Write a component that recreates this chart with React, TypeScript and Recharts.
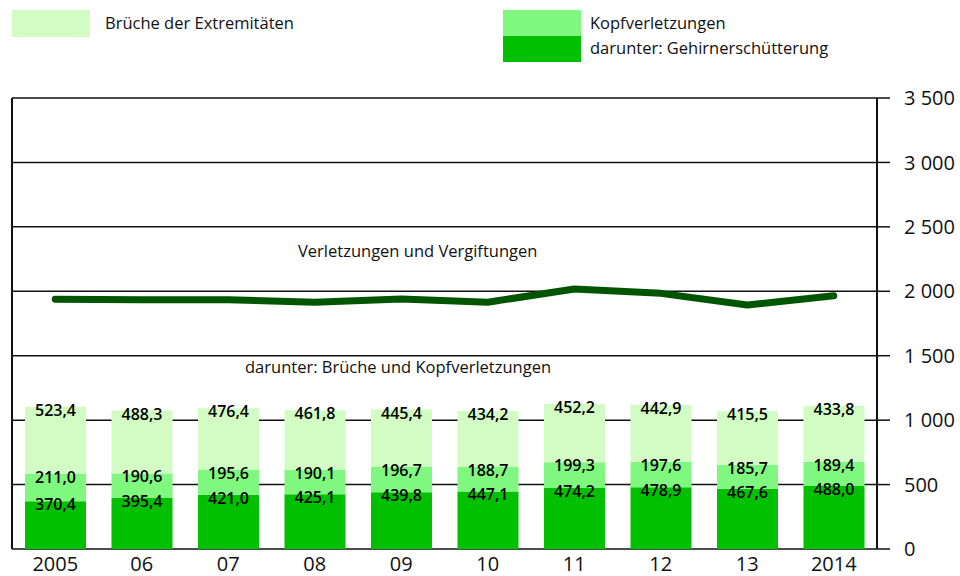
import { ComposedChart, Bar, Line, XAxis, YAxis, CartesianGrid, LabelList } from "recharts";

const years = ["2005", "06", "07", "08", "09", "10", "11", "12", "13", "2014"];
const concussion = [370.4, 395.4, 421.0, 425.1, 439.8, 447.1, 474.2, 478.9, 467.6, 488.0];
const headOther = [211.0, 190.6, 195.6, 190.1, 196.7, 188.7, 199.3, 197.6, 185.7, 189.4];
const fractures = [523.4, 488.3, 476.4, 461.8, 445.4, 434.2, 452.2, 442.9, 415.5, 433.8];
const injuriesTotal = [1938, 1935, 1935, 1915, 1940, 1915, 2018, 1984, 1893, 1966];
const yTicks = [0, 500, 1000, 1500, 2000, 2500, 3000, 3500];

const data = years.map((year, i) => ({
  year,
  concussion: concussion[i],
  headOther: headOther[i],
  fractures: fractures[i],
  total: injuriesTotal[i],
}));

const FONT = "'Open Sans', sans-serif";
const fmt = (v: number) => v.toFixed(1).replace(".", ",");
const fmtTick = (v: number) => (v >= 1000 ? `${Math.floor(v / 1000)} ${String(v % 1000).padStart(3, "0")}` : String(v));

const SegmentLabel = (props: any) => {
  const { x, y, width, value } = props;
  return (
    <text
      x={x + width / 2}
      y={y + 3}
      textAnchor="middle"
      dominantBaseline="central"
      fontFamily={FONT}
      fontSize={16}
      fontWeight={600}
      fill="#000"
    >
      {fmt(value)}
    </text>
  );
};

export default function App() {
  return (
    <div style={{ position: "absolute", left: 0, top: 0, width: 960, height: 576, fontFamily: FONT, background: "#fff" }}>
      {/* Legend */}
      <div style={{ position: "absolute", left: 12, top: 10, width: 78, height: 27, background: "#d2fcc4" }} />
      <div style={{ position: "absolute", left: 105, top: 11, fontSize: 16.5, color: "#111" }}>Brüche der Extremitäten</div>
      <div style={{ position: "absolute", left: 503, top: 10, width: 78, height: 26, background: "#80f880" }} />
      <div style={{ position: "absolute", left: 503, top: 36, width: 78, height: 26, background: "#00c000" }} />
      <div style={{ position: "absolute", left: 590, top: 11, fontSize: 16.5, color: "#111" }}>Kopfverletzungen</div>
      <div style={{ position: "absolute", left: 590, top: 36, fontSize: 16.5, color: "#111" }}>darunter: Gehirnerschütterung</div>

      <ComposedChart width={960} height={576} data={data} margin={{ top: 98, right: 0, left: 11, bottom: 0 }} barCategoryGap={0}>
        <CartesianGrid vertical={false} stroke="#111" strokeWidth={1.5} />
        <XAxis
          dataKey="year"
          axisLine={false}
          tickLine={false}
          height={27}
          interval={0}
          tick={{ fontSize: 20, fill: "#111", fontFamily: FONT }}
        />
        <YAxis
          yAxisId="l"
          orientation="left"
          domain={[0, 3500]}
          ticks={yTicks}
          width={1}
          tick={false}
          tickLine={false}
          axisLine={{ stroke: "#111", strokeWidth: 2 }}
        />
        <YAxis
          orientation="right"
          domain={[0, 3500]}
          ticks={yTicks}
          width={83}
          tickSize={13}
          tickMargin={14}
          tickFormatter={fmtTick}
          axisLine={{ stroke: "#111", strokeWidth: 2 }}
          tickLine={{ stroke: "#111", strokeWidth: 1.5 }}
          tick={{ fontSize: 20, fill: "#111", fontFamily: FONT, textAnchor: "start" }}
        />
        <Bar dataKey="concussion" stackId="a" fill="#00c000" barSize={61} isAnimationActive={false}>
          <LabelList dataKey="concussion" content={SegmentLabel} />
        </Bar>
        <Bar dataKey="headOther" stackId="a" fill="#80f880" barSize={61} isAnimationActive={false}>
          <LabelList dataKey="headOther" content={SegmentLabel} />
        </Bar>
        <Bar dataKey="fractures" stackId="a" fill="#d2fcc4" barSize={61} isAnimationActive={false}>
          <LabelList dataKey="fractures" content={SegmentLabel} />
        </Bar>
        <Line
          dataKey="total"
          type="linear"
          stroke="#005500"
          strokeWidth={7}
          strokeLinecap="round"
          strokeLinejoin="round"
          dot={false}
          activeDot={false}
          isAnimationActive={false}
        />
      </ComposedChart>

      {/* Annotations */}
      <div style={{ position: "absolute", left: 298, top: 239, fontSize: 16.5, color: "#111", whiteSpace: "nowrap" }}>
        Verletzungen und Vergiftungen
      </div>
      <div style={{ position: "absolute", left: 245, top: 355, fontSize: 16.5, color: "#111", whiteSpace: "nowrap" }}>
        darunter: Brüche und Kopfverletzungen
      </div>
    </div>
  );
}
